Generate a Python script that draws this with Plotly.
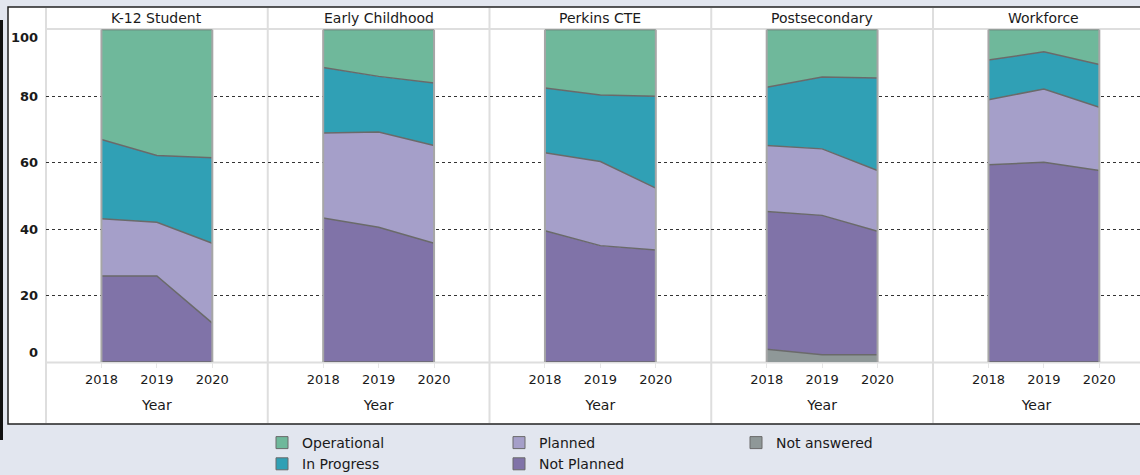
import plotly.graph_objects as go

years = [2018, 2019, 2020]
year_labels = ["2018", "2019", "2020"]
panels = ["K-12 Student", "Early Childhood", "Perkins CTE", "Postsecondary", "Workforce"]
y_ticks = [0, 20, 40, 60, 80, 100]

# percentage shares per panel (stack order bottom -> top)
not_answered = [[0, 0, 0], [0, 0, 0], [0, 0, 0], [3.8, 2.2, 2.2], [0, 0, 0]]
not_planned = [[25.9, 25.9, 11.7], [43.3, 40.5, 35.7], [39.5, 35.0, 33.7], [41.5, 41.9, 37.1], [59.3, 60.1, 57.6]]
planned = [[17.2, 16.1, 24.0], [25.6, 28.7, 29.4], [23.4, 25.3, 18.6], [19.8, 20.0, 18.3], [19.6, 22.0, 19.0]]
in_progress = [[23.8, 20.1, 25.7], [19.7, 16.7, 18.8], [19.5, 20.0, 27.6], [17.5, 21.6, 27.8], [11.9, 11.2, 12.9]]
operational = [[33.1, 37.9, 38.6], [11.4, 14.1, 16.1], [17.6, 19.7, 20.1], [17.4, 14.3, 14.6], [9.2, 6.7, 10.5]]

series = [
    ("Not answered", not_answered, "#8f9898"),
    ("Not Planned", not_planned, "#8073a8"),
    ("Planned", planned, "#a59fc9"),
    ("In Progress", in_progress, "#30a0b5"),
    ("Operational", operational, "#6fb89b"),
]
legend_slot = {"Operational": ("legend", 1), "In Progress": ("legend", 2),
               "Planned": ("legend2", 1), "Not Planned": ("legend2", 2),
               "Not answered": ("legend3", 1)}

W, H = 1140, 475
FONT = "DejaVu Sans"
TXT = "#1a1a1a"
left0 = 46.0
pw = 221.75
y_top_px, y_bot_px = 29.5, 362.0

def px_x(p):
    return p / W

def px_y(p):
    return (H - p) / H

fig = go.Figure()
layout = {}
shapes = []
annotations = []

for i, name in enumerate(panels):
    ax = "" if i == 0 else str(i + 1)
    x0 = left0 + pw * i
    x1 = min(x0 + pw, W)
    frac = (x1 - x0) / pw
    layout["xaxis" + ax] = dict(
        domain=[px_x(x0), px_x(x1)], range=[2017, 2017 + 4 * frac],
        tickvals=years, ticktext=year_labels, showgrid=False, zeroline=False,
        ticks="outside", ticklen=5, tickcolor="#e6e6e6", tickwidth=1,
        tickfont=dict(family=FONT, size=13, color=TXT),
        title=dict(text="Year", font=dict(family=FONT, size=14, color=TXT), standoff=14),
        anchor="y" + ax, fixedrange=True, automargin=False,
    )
    layout["yaxis" + ax] = dict(
        domain=[px_y(y_bot_px), px_y(y_top_px)], range=[0, 100],
        tickvals=y_ticks[1:-1], showticklabels=False, showgrid=True,
        gridcolor="#333333", griddash="dot", gridwidth=1, zeroline=False,
        anchor="x" + ax, fixedrange=True, automargin=False,
    )
    for sname, data, col in series:
        fig.add_trace(go.Scatter(
            x=years, y=data[i], stackgroup="g%d" % i, mode="lines",
            line=dict(color="#6a6a6a", width=1.5), fillcolor=col,
            showlegend=False, hoverinfo="skip",
            xaxis="x" + ax, yaxis="y" + ax,
        ))
    for xv in (years[0], years[-1]):
        shapes.append(dict(type="line", xref="x" + ax, yref="y" + ax, x0=xv, x1=xv,
                           y0=0, y1=100, line=dict(color="#a6a6a6", width=2), layer="above"))
    annotations.append(dict(text=name, x=px_x((x0 + x0 + pw) / 2), y=px_y(18), xref="paper", yref="paper",
                            showarrow=False, xanchor="center", yanchor="middle",
                            font=dict(family=FONT, size=14, color=TXT)))

for sname, data, col in series:
    lg, rk = legend_slot[sname]
    fig.add_trace(go.Bar(x=[None], y=[None], name=sname, legend=lg, legendrank=rk,
                         marker=dict(color=col, line=dict(color="#6a6a6a", width=1)),
                         showlegend=True, hoverinfo="skip"))

for v in y_ticks:
    shift = -8 if v == 100 else (10 if v == 0 else 0)
    annotations.append(dict(text="<b>%d</b>" % v, x=px_x(40), y=v, xref="paper", yref="y",
                            xanchor="right", yanchor="middle", yshift=shift, showarrow=False,
                            font=dict(family=FONT, size=13, color=TXT)))

shapes.insert(0, dict(type="rect", xref="paper", yref="paper", x0=px_x(8), x1=1.05, y0=px_y(424), y1=px_y(7),
                      fillcolor="white", line=dict(color="#222222", width=1.5), layer="below"))
shapes.insert(1, dict(type="rect", xref="paper", yref="paper", x0=0, x1=px_x(3), y0=px_y(440), y1=px_y(20),
                      fillcolor="#111111", line=dict(width=0), layer="below"))
grid_col = "#dedede"
for i in range(5):
    xp = left0 + pw * i
    shapes.append(dict(type="line", xref="paper", yref="paper", x0=px_x(xp), x1=px_x(xp),
                       y0=px_y(423), y1=px_y(8), line=dict(color=grid_col, width=2), layer="between"))
shapes.append(dict(type="line", xref="paper", yref="paper", x0=px_x(left0), x1=1,
                   y0=px_y(29), y1=px_y(29), line=dict(color=grid_col, width=2), layer="between"))
shapes.append(dict(type="line", xref="paper", yref="paper", x0=px_x(left0), x1=1,
                   y0=px_y(362.5), y1=px_y(362.5), line=dict(color=grid_col, width=2), layer="between"))

def legend_box(xpx):
    return dict(orientation="v", x=px_x(xpx), y=px_y(427), xref="container", yref="container",
                xanchor="left", yanchor="top",
                traceorder="normal", font=dict(family=FONT, size=14, color=TXT),
                bgcolor="rgba(0,0,0,0)", itemclick=False, itemdoubleclick=False,
                tracegroupgap=0, borderwidth=0)

fig.update_layout(
    width=W, height=H, margin=dict(l=0, r=0, t=0, b=0, autoexpand=False),
    paper_bgcolor="#e2e6ef", plot_bgcolor="rgba(0,0,0,0)",
    shapes=shapes, annotations=annotations,
    showlegend=True, hovermode=False,
    legend=legend_box(262), legend2=legend_box(499), legend3=legend_box(736),
    **layout,
)

fig.write_html("out.html", config={"displayModeBar": False, "staticPlot": False},
               post_script="document.body.style.margin='0';document.body.style.overflow='hidden';")
